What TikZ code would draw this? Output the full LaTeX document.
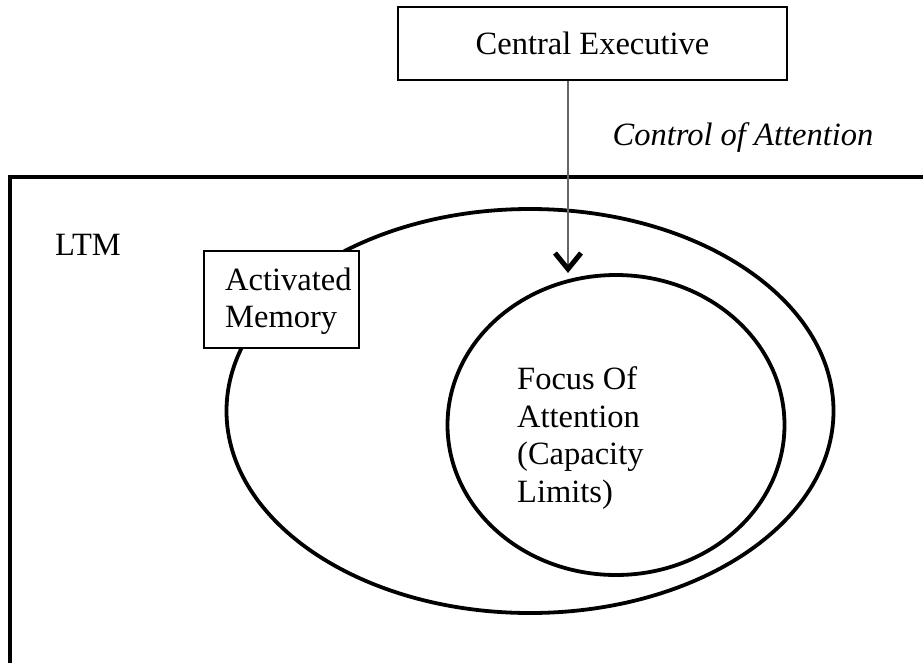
\documentclass[tikz,border=0pt]{standalone}
\usepackage{fontspec}
\setmainfont{Liberation Serif}
\usetikzlibrary{arrows.meta,shapes.geometric}
\begin{document}
\begin{tikzpicture}[x=1pt,y=-1pt,
  every node/.style={font=\fontsize{32.5}{37.5}\selectfont},
  boxst/.style={draw, line width=2.8pt, inner sep=0pt, fill=white},
  ellst/.style={draw, ellipse, line width=3.8pt, inner sep=0pt},
  lbl/.style={inner sep=0pt, align=left},
  ctrl/.style={-{Straight Barb[length=16pt,width=26pt,line width=5pt,color=black]}, draw=black!60, line width=1.3pt}
]
\useasboundingbox (0,0) rectangle (923,662);
\clip (0,0) rectangle (923,662);
\fill[white] (0,0) rectangle (923,662);
% LTM box (runs off the right and bottom)
\node[boxst, line width=3.2pt, minimum width=930pt, minimum height=503pt] (ltmbox) at (475,428.5) {};
\node[lbl, anchor=west] (ltm) at (55,245) {LTM};
% Central executive
\node[boxst, minimum width=389pt, minimum height=73pt] (ce) at (592.5,43.5) {Central Executive};
\node[lbl, font=\fontsize{32.5}{37.5}\selectfont\itshape] (coa) at (743,138) {Control of Attention};
% Activated memory ellipse
\node[ellst, minimum width=607pt, minimum height=404pt] (am) at (530,411) {};
% Focus of attention
\node[ellst, minimum width=337pt, minimum height=300pt] (foa) at (616,425) {};
\node[lbl, anchor=west] (foatext) at (517,438) {Focus Of\\Attention\\(Capacity\\Limits)};
% Activated memory label box
\node[boxst, minimum width=155pt, minimum height=97pt] (ambox) at (281.5,299.5) {};
\node[lbl, anchor=west] (amtext) at (225,301) {Activated\\Memory};
% control arrow
\coordinate (aend) at (568,273);
\draw[ctrl] (ce.south -| aend) -- (aend);
\end{tikzpicture}
\end{document}
